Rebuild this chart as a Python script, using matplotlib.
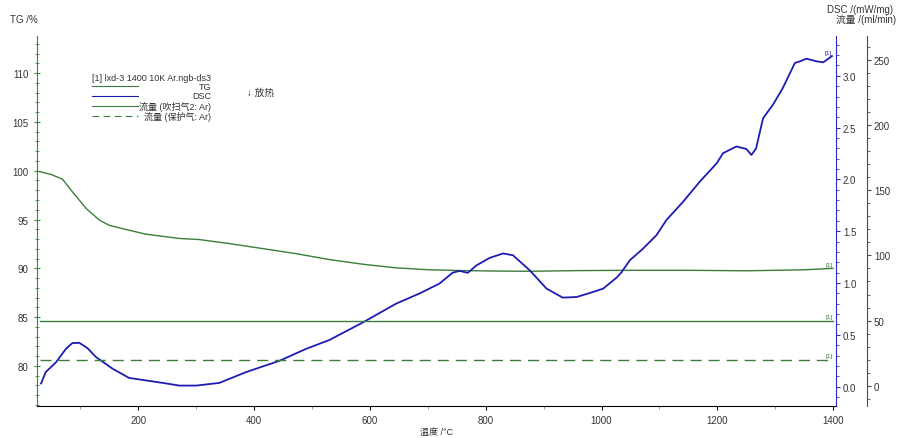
import matplotlib
matplotlib.use('Agg')
import matplotlib.pyplot as plt
from matplotlib.lines import Line2D
from matplotlib.ticker import MultipleLocator

plt.rcParams['font.family'] = ['Liberation Sans', 'Noto Sans CJK SC', 'DejaVu Sans']

# TG curve (%)
tg_temp = [30, 50, 69, 86, 110, 133, 150, 179, 213, 271, 305, 357, 414, 473, 530,
           588, 645, 703, 760, 820, 876, 962, 1049, 1150, 1250, 1350, 1400]
tg_val = [99.9, 99.6, 99.14, 97.85, 96.13, 94.93, 94.4, 93.98, 93.5, 93.06, 92.95,
          92.54, 92.03, 91.5, 90.9, 90.42, 90.05, 89.85, 89.77, 89.72, 89.7, 89.77,
          89.8, 89.8, 89.75, 89.85, 90.0]

# DSC curve (mW/mg)
dsc_temp = [32, 40, 58, 75, 86, 98, 112, 127, 156, 184, 242, 271, 300, 340, 386, 444,
            490, 530, 588, 645, 686, 720, 743, 755, 769, 784, 807, 830, 847, 876, 905,
            933, 957, 980, 1003, 1026, 1034, 1049, 1072, 1095, 1112, 1141, 1170, 1199,
            1210, 1233, 1250, 1259, 1267, 1279, 1296, 1313, 1334, 1343, 1354, 1371,
            1383, 1398]
dsc_val = [0.03, 0.14, 0.236, 0.365, 0.42, 0.423, 0.372, 0.285, 0.171, 0.084, 0.036,
           0.01, 0.01, 0.036, 0.14, 0.25, 0.365, 0.45, 0.62, 0.80, 0.90, 0.994, 1.10,
           1.117, 1.098, 1.17, 1.243, 1.285, 1.268, 1.123, 0.946, 0.859, 0.865, 0.904,
           0.946, 1.052, 1.10, 1.22, 1.333, 1.462, 1.607, 1.785, 1.98, 2.156, 2.253,
           2.318, 2.294, 2.236, 2.30, 2.59, 2.72, 2.88, 3.124, 3.14, 3.165, 3.14, 3.13,
           3.19]

# gas flow (ml/min)
flow_temp = [30, 1400]
flow_purge = [50, 50]
flow_protect = [20, 20]

green = '#3b7d3b'
blue = '#1c1cb4'
txt = '#333333'

fig = plt.figure(figsize=(9, 4.39), dpi=100)
ax = fig.add_axes([37/900, 1-407/439, (836-37)/900, (407-37)/439])
ax2 = ax.twinx()
ax3 = ax.twinx()

ax.plot(tg_temp, tg_val, color=green, lw=1.0)
ax2.plot(dsc_temp, dsc_val, color=blue, lw=1.3)
ax3.plot(flow_temp, flow_purge, color=green, lw=1.0)
ax3.plot(flow_temp, flow_protect, color=green, lw=1.0, dashes=(8, 5))

ax.set_xlim(25, 1405)
ax.set_ylim(75.9, 113.8)
ax2.set_ylim(-0.187, 3.384)
ax3.set_ylim(-15.6, 268.5)

for a in (ax, ax2, ax3):
    a.spines['top'].set_visible(False)
for a in (ax2, ax3):
    a.spines['left'].set_visible(False)
    a.spines['bottom'].set_visible(False)
ax.spines['right'].set_visible(False)
ax.spines['left'].set_color('#2e8b2e')
ax.spines['bottom'].set_color('black')
ax2.spines['right'].set_color('#2a2ad0')
# 31 px to the right of the DSC axis (points at 100 dpi)
ax3.spines['right'].set_position(('outward', 31 * 72 / 100))
ax3.spines['right'].set_color('#2f5f2f')

ax.xaxis.set_major_locator(MultipleLocator(200))
ax.xaxis.set_minor_locator(MultipleLocator(100))
ax.yaxis.set_major_locator(MultipleLocator(5))
ax.yaxis.set_minor_locator(MultipleLocator(1))
ax2.yaxis.set_major_locator(MultipleLocator(0.5))
ax2.yaxis.set_minor_locator(MultipleLocator(0.1))
ax2.yaxis.set_major_formatter(matplotlib.ticker.FormatStrFormatter('%.1f'))
ax3.yaxis.set_major_locator(MultipleLocator(50))
ax3.yaxis.set_minor_locator(MultipleLocator(10))

ax.tick_params(axis='x', which='major', length=3, labelsize=7, colors='black', labelcolor=txt)
ax.tick_params(axis='x', which='minor', length=2, colors='#888888')
ax.tick_params(axis='y', which='both', direction='inout', colors='#2e8b2e', labelcolor=txt, labelsize=7)
ax.tick_params(axis='y', which='major', length=5)
ax.tick_params(axis='y', which='minor', length=3)
ax2.tick_params(axis='y', which='both', colors='#2a2ad0', labelcolor=txt, labelsize=7, pad=2)
ax2.tick_params(axis='y', which='major', length=3)
ax2.tick_params(axis='y', which='minor', length=2)
ax3.tick_params(axis='y', which='both', colors='#2f5f2f', labelcolor=txt, labelsize=7, pad=2)
ax3.tick_params(axis='y', which='major', length=3)
ax3.tick_params(axis='y', which='minor', length=2)

ax.set_xlabel('温度 /°C', fontsize=6.5, color=txt, labelpad=1)

fig.text(10/900, 1-20/439, 'TG /%', fontsize=7, color=txt, va='center')
fig.text(893/900, 1-10/439, 'DSC /(mW/mg)', fontsize=7, color=txt, va='center', ha='right')
fig.text(896/900, 1-20/439, '流量 /(ml/min)', fontsize=7, color=txt, va='center', ha='right')

# curve end markers
tag = dict(fontsize=4.5, textcoords='offset points', ha='right', va='bottom')
ax2.annotate('[1]', (dsc_temp[-1], dsc_val[-1]), xytext=(0, 1), color=blue, **tag)
ax.annotate('[1]', (tg_temp[-1], tg_val[-1]), xytext=(0, 1), color=green, **tag)
ax3.annotate('[1]', (flow_temp[-1], flow_purge[-1]), xytext=(0, 1), color=green, **tag)
ax3.annotate('[1]', (flow_temp[-1], flow_protect[-1]), xytext=(0, 1), color=green, **tag)

# legend block
def fx(px):
    return px / 900

def fy(py):
    return 1 - py / 439

fig.text(fx(92), fy(79), '[1] lxd-3 1400 10K Ar.ngb-ds3', fontsize=6.5, color=txt, va='center')
rows = [('TG', 87.3, green, '-'), ('DSC', 96.7, blue, '-'),
        ('流量 (吹扫气2: Ar)', 106.7, green, '-'), ('流量 (保护气: Ar)', 116.7, green, '--')]
for label, py, col, ls in rows:
    ln = Line2D([fx(92), fx(138)], [fy(py), fy(py)], color=col, lw=0.8,
                transform=fig.transFigure)
    if ls == '--':
        ln.set_dashes((6, 4))
    fig.add_artist(ln)
    fig.text(fx(211), fy(py), label, fontsize=6.5, color=txt, va='center', ha='right')

fig.text(fx(247), fy(93), '↓ 放热', fontsize=7, color=txt, va='center')

fig.savefig('out.png', dpi=100)
